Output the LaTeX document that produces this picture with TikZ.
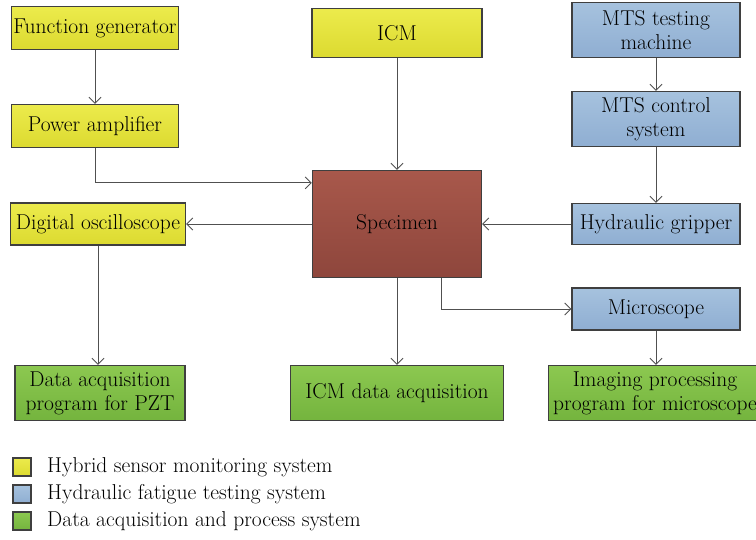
\documentclass[tikz,border=0pt]{standalone}
\usepackage{tikz}
\usetikzlibrary{arrows.meta}

\definecolor{sensorTop}{HTML}{ECEB4C}
\definecolor{sensorBot}{HTML}{DCDA30}
\definecolor{fatigueTop}{HTML}{A6C2DE}
\definecolor{fatigueBot}{HTML}{8FAED2}
\definecolor{dataTop}{HTML}{8CC850}
\definecolor{dataBot}{HTML}{74B43E}
\definecolor{specTop}{HTML}{A8584B}
\definecolor{specBot}{HTML}{8E463C}
\definecolor{edge}{HTML}{3F3F3F}
\definecolor{wire}{HTML}{505050}

\tikzset{
	box/.style={draw=edge, line width=1.3pt, align=center, inner sep=1pt,
		font=\fontsize{21.5}{24}\selectfont},
	sensor/.style={box, top color=sensorTop, bottom color=sensorBot},
	fatigue/.style={box, top color=fatigueTop, bottom color=fatigueBot},
	dataacq/.style={box, top color=dataTop, bottom color=dataBot},
	wire/.style={draw=wire, line width=0.9pt, -{Straight Barb[length=6pt, width=12pt]}},
	legtext/.style={anchor=west, inner sep=0pt, font=\fontsize{21.5}{24}\selectfont}
}

\begin{document}
\begin{tikzpicture}[x=1pt, y=-1pt]
		%page frame, one unit per pixel
		\useasboundingbox (0,0) rectangle (756,539);
		
		%column positions
		\def\xL{95};
		\def\xM{397};
		\def\xR{656};
		
		%left column: sensor side
		\node[sensor, minimum width=167, minimum height=43] (fungen) at (\xL,28) {Function generator};
		\node[sensor, minimum width=167, minimum height=43] (poweramp) at (\xL,126) {Power amplifier};
		\node[sensor, minimum width=175, minimum height=42] (oscill) at (98,224) {Digital oscilloscope};
		\node[dataacq, minimum width=170, minimum height=55] (pztprog) at (100,393) {Data acquisition\\program for PZT};
		
		%middle column
		\node[sensor, minimum width=170, minimum height=49] (icm) at (\xM,33) {ICM};
		\node[box, top color=specTop, bottom color=specBot, minimum width=169, minimum height=107] (specimen) at (\xM,224) {Specimen};
		\node[dataacq, minimum width=213, minimum height=55] (icmdaq) at (\xM,393) {ICM data acquisition};
		
		%right column: fatigue testing side
		\node[fatigue, minimum width=168, minimum height=55] (mtsmach) at (\xR,30) {MTS testing\\machine};
		\node[fatigue, minimum width=168, minimum height=55] (mtsctrl) at (\xR,119) {MTS control\\system};
		\node[fatigue, minimum width=168, minimum height=41] (gripper) at (\xR,224) {Hydraulic gripper};
		\node[fatigue, minimum width=168, minimum height=42] (micro) at (\xR,309) {Microscope};
		\node[dataacq, minimum width=213, minimum height=55] (imgprog) at (655,393) {Imaging processing\\program for microscope};
		
		%connections
		\draw[wire] (fungen) -- (poweramp);
		\draw[wire] (poweramp.south) |- ([yshift=-13pt]specimen.north west);
		\draw[wire] (specimen) -- (oscill);
		\draw[wire] (oscill.south) -- (oscill.south |- pztprog.north);
		\draw[wire] (icm) -- (specimen);
		\draw[wire] (specimen) -- (icmdaq);
		\draw[wire] (mtsmach) -- (mtsctrl);
		\draw[wire] (mtsctrl) -- (gripper);
		\draw[wire] (gripper) -- (specimen);
		\draw[wire] ([xshift=44pt]specimen.south) |- (micro.west);
		\draw[wire] (micro) -- (micro.south |- imgprog.north);
		
		%legend
		\node[sensor, minimum size=18, inner sep=0pt] (legsensor) at (22,467) {};
		\node[fatigue, minimum size=18, inner sep=0pt] (legfatigue) at (22,494) {};
		\node[dataacq, minimum size=18, inner sep=0pt] (legdata) at (22,521) {};
		\node[legtext] at (47,467) {Hybrid sensor monitoring system};
		\node[legtext] at (47,494) {Hydraulic fatigue testing system};
		\node[legtext] at (47,521) {Data acquisition and process system};
	\end{tikzpicture}
\end{document}
